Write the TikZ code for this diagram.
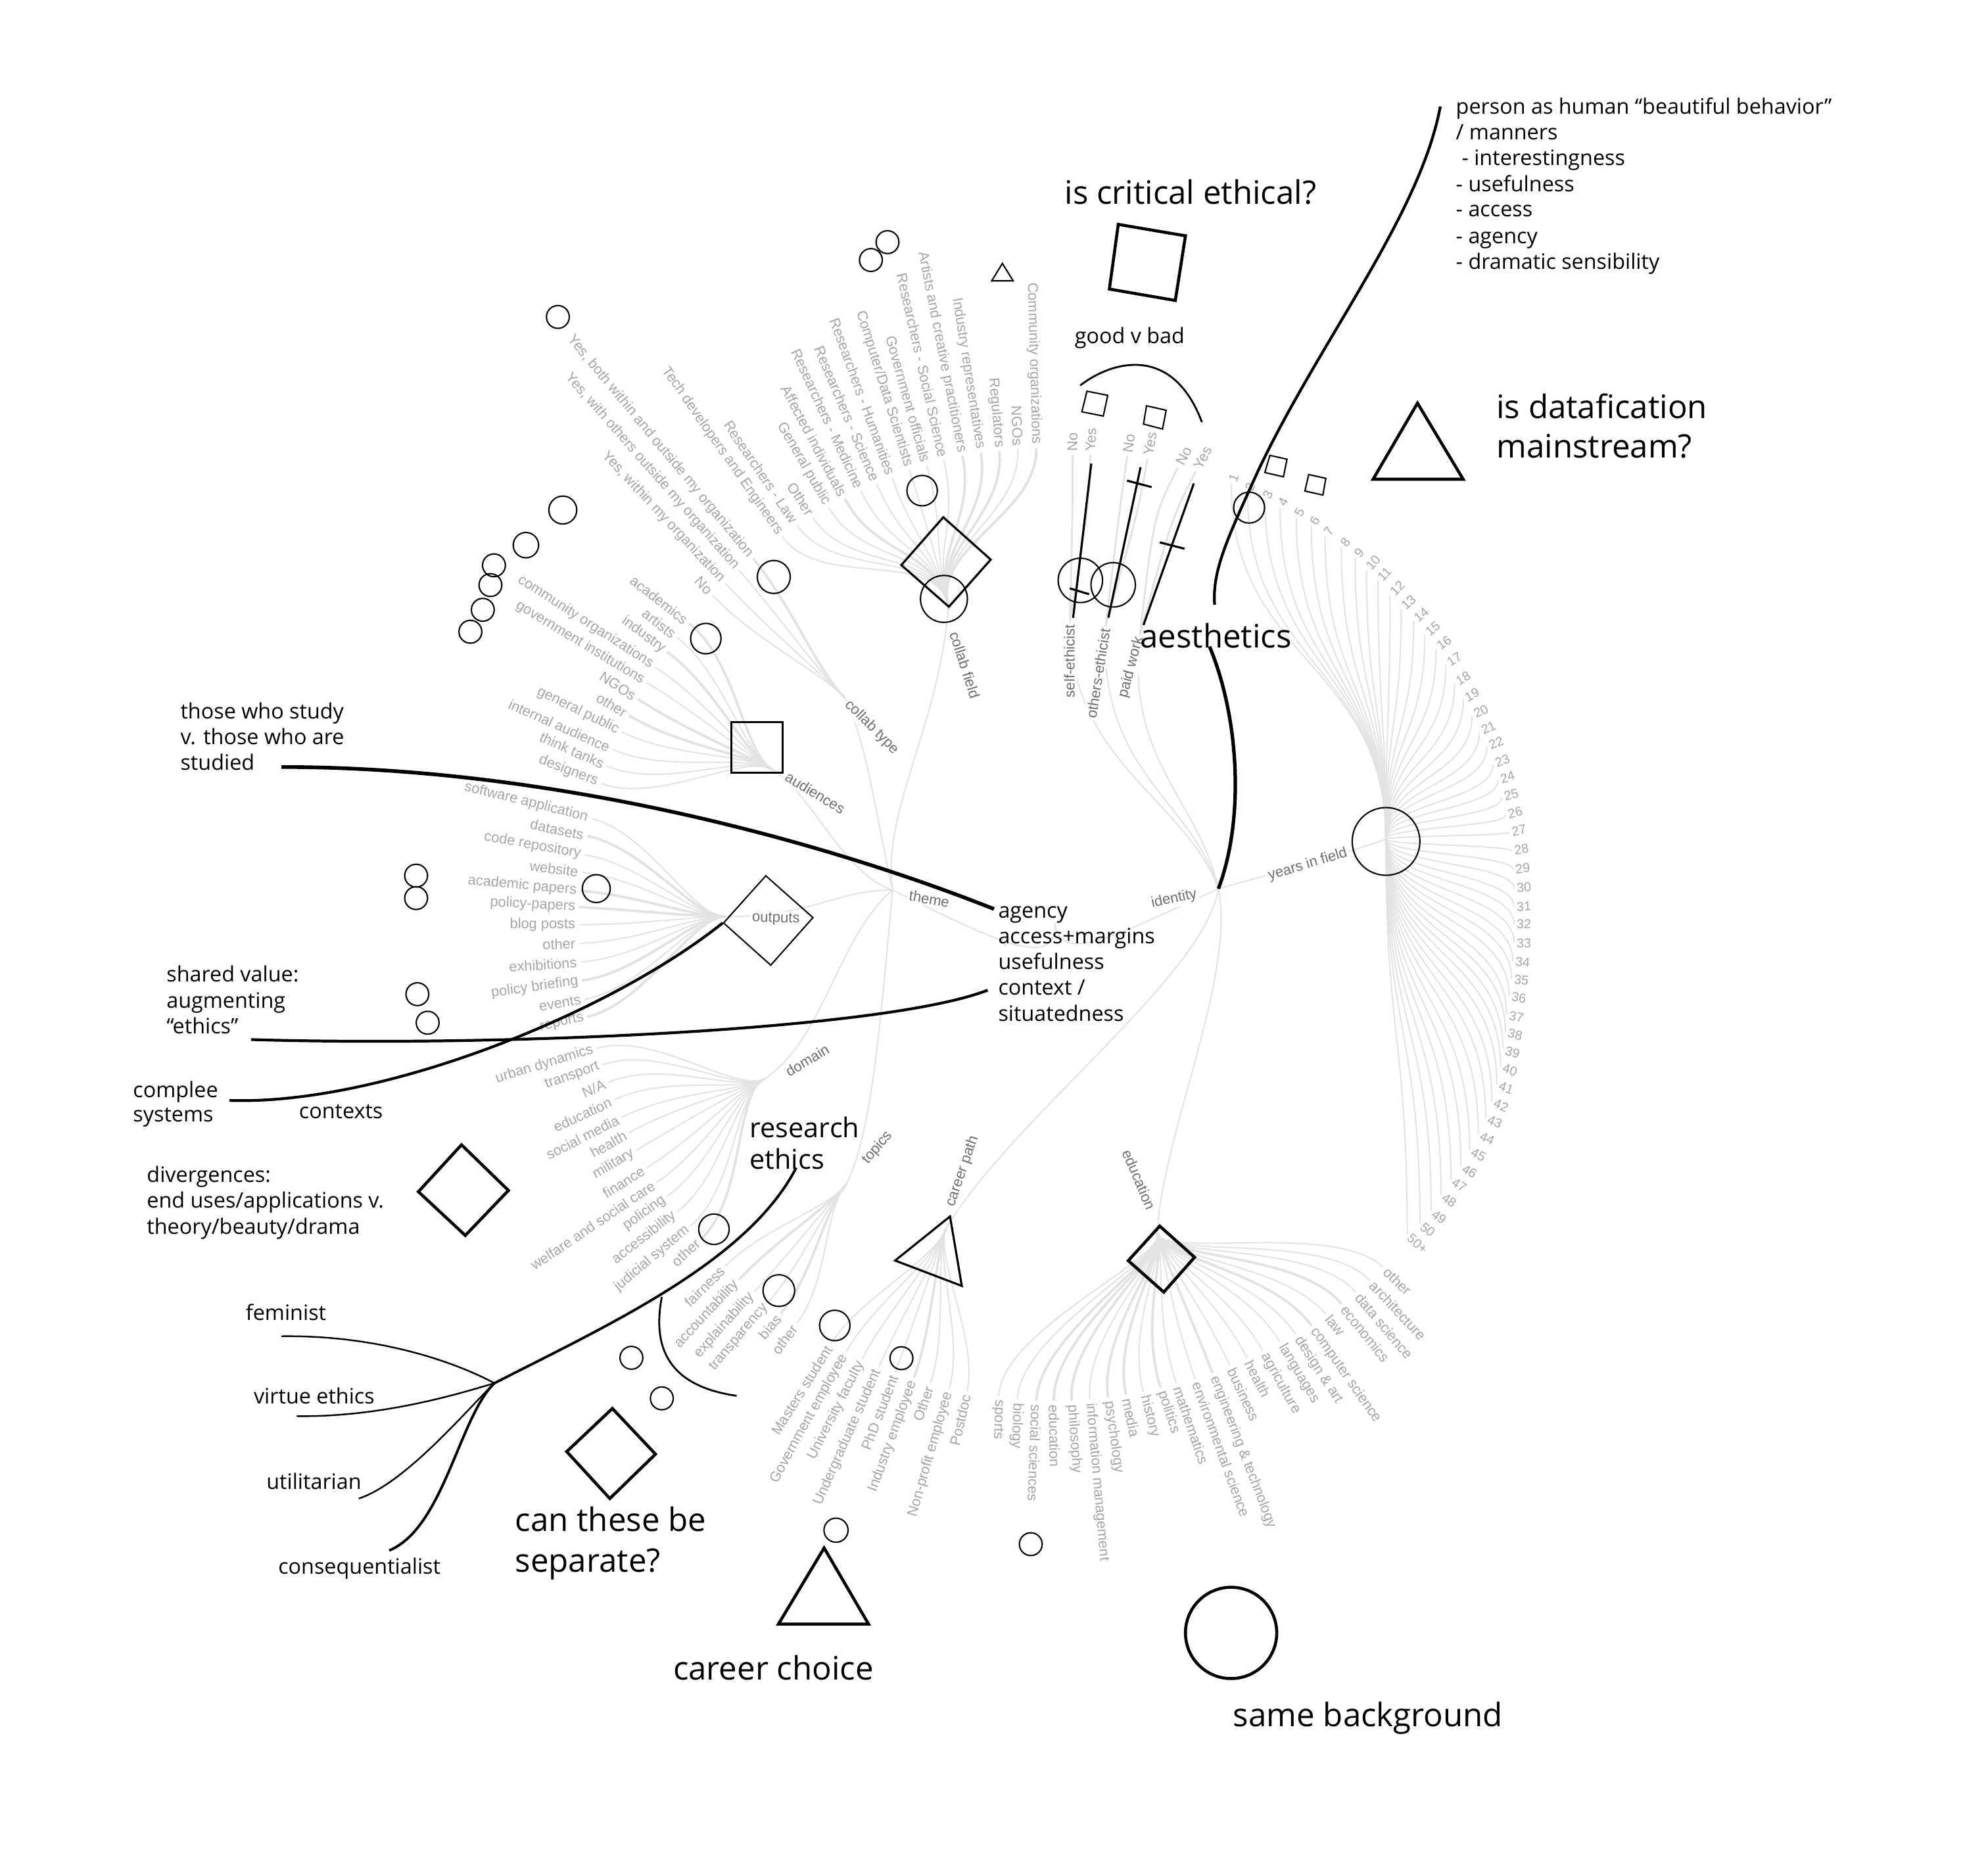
\documentclass[tikz,border=0pt]{standalone}
\usepackage{fontspec}
\setmainfont{Open Sans}
\newfontfamily\lblfont{Liberation Sans}
\usetikzlibrary{calc}
\definecolor{lblgray}{HTML}{A6A6A6}
\definecolor{catgray}{HTML}{6E6E6E}
\definecolor{lnkgray}{HTML}{E2E2E2}
\begin{document}
\begin{tikzpicture}[x=0.019286cm,y=-0.019286cm,
  lbl/.style={font=\lblfont\fontsize{6.2}{7}\selectfont,text=lblgray,inner sep=1.5pt},
  yrlbl/.style={font=\lblfont\fontsize{5.6}{6}\selectfont,text=lblgray,inner sep=1pt},
  cat/.style={font=\lblfont\fontsize{6.3}{7}\selectfont,text=catgray,inner sep=0.8pt,fill=white},
  lnk/.style={draw=lnkgray,line width=0.55pt},
  ann/.style={font=\fontsize{9.2}{11}\selectfont,anchor=base west,inner sep=0pt},
  annc/.style={font=\fontsize{9.2}{11}\selectfont,anchor=base,inner sep=0pt},
  big/.style={font=\fontsize{14}{17}\selectfont,anchor=base west,inner sep=0pt},
  bigc/.style={font=\fontsize{14}{17}\selectfont,anchor=base,inner sep=0pt},
  midt/.style={font=\fontsize{11.8}{14}\selectfont,anchor=base west,inner sep=0pt},
  ink/.style={draw=black,line width=0.6pt},
  inkm/.style={draw=black,line width=0.9pt},
  inkb/.style={draw=black,line width=1.3pt},
]
\fill[white] (0,0) rectangle (1568,1466);
\useasboundingbox (0,0) rectangle (1568,1466);

% ---------- hubs ----------
\coordinate (root) at (832,728);
\coordinate (thH) at (704,702);
\coordinate (idH) at (961,701);
\coordinate (cfH) at (748,477);
\coordinate (ctH) at (666,550);
\coordinate (auH) at (609,607);
\coordinate (ouH) at (572,723);
\coordinate (doH) at (603,851);
\coordinate (toH) at (667,935);
\coordinate (cpH) at (746,969);
\coordinate (edH) at (913,973);
\coordinate (yrH) at (1093,662);
\coordinate (seN) at (844,489);
\coordinate (oeN) at (872,494);
\coordinate (pwN) at (899,501);
\coordinate (cfK) at ([shift={(105:0.9cm)}]cfH);
\coordinate (ctK) at ([shift={(135:0.6cm)}]ctH);
\coordinate (auK) at ([shift={(150:0.5cm)}]auH);
\coordinate (ouK) at ([shift={(180:0.5cm)}]ouH);
\coordinate (doK) at ([shift={(205:0.5cm)}]doH);
\coordinate (toK) at ([shift={(229:0.5cm)}]toH);
\coordinate (cpK) at ([shift={(251:0.5cm)}]cpH);
\coordinate (edK) at ([shift={(-75:0.4cm)}]edH);

% ---------- central links ----------
\draw[lnk] (root) .. controls (833,765) and (790,745) .. (thH);
\draw[lnk] (root) .. controls (836,762) and (880,738) .. (idH);
\draw[lnk] (thH) .. controls (692,650) and (684,585) .. (ctH);
\draw[lnk] (thH) .. controls (695,640) and (742,570) .. (cfH);
\draw[lnk] (thH) .. controls (665,690) and (640,625) .. (auH);
\draw[lnk] (thH) .. controls (660,702) and (640,723) .. (ouH);
\draw[lnk] (thH) .. controls (660,740) and (650,820) .. (doH);
\draw[lnk] (thH) .. controls (695,800) and (688,895) .. (toH);
\draw[lnk] (idH) .. controls (935,630) and (842,600) .. (seN);
\draw[lnk] (idH) .. controls (940,630) and (866,610) .. (oeN);
\draw[lnk] (idH) .. controls (945,630) and (888,600) .. (pwN);
\draw[lnk] (idH) .. controls (1000,690) and (1040,680) .. (yrH);
\draw[lnk] (idH) .. controls (975,770) and (915,900) .. (edH);
\draw[lnk] (idH) .. controls (950,770) and (800,880) .. (cpH);

% ---------- collab field ----------
\foreach \px/\py/\ang/\w/\txt [count=\i] in {
617/423/-55/0.55/{Tech developers and Engineers},
628.5/414/-56/0.55/{Researchers - Law},
641/408/-57/0.55/{Other},
653.5/400/-60/0.55/{General public},
666.5/393.5/-62/1.1/{Affected individuals},
679/387/-65/0.55/{Researchers - Medicine},
691.5/381.7/-67/0.55/{Researchers - Science},
703.6/377/-70/0.55/{Researchers - Humanities},
717.3/370.7/-72.7/0.55/{Computer/Data Scientists},
730.9/367/-74.3/0.55/{Government officials},
744.5/363.3/-77.2/0.55/{Researchers - Social Science},
759.1/359.6/-78.8/1.1/{Artists and creative practitioners},
773.6/357.1/-81/1.1/{Industry representatives},
788.2/355.9/-85/1.1/{Regulators},
802.8/354.7/-88/0.55/{NGOs},
817.3/353.4/-88.4/1.1/{Community organizations}}{
  \node[lbl,rotate=\ang,anchor=east] (cf\i) at (\px,\py) {\txt};
  \draw[lnk,line width=\w pt] (cfH) .. controls (cfK) and ([shift={(\ang:1cm)}]cf\i.east) .. (cf\i.east);
}

% ---------- collab type ----------
\foreach \px/\py/\ang/\w/\txt [count=\i] in {
594/440.5/-50.4/1.1/{Yes, both within and outside my organization},
583/450/-48.7/0.55/{Yes, with others outside my organization},
572/460/-47/0.55/{Yes, within my organization},
562/469.4/-47/0.55/{No}}{
  \node[lbl,rotate=\ang,anchor=east] (ct\i) at (\px,\py) {\txt};
  \draw[lnk,line width=\w pt] (ctH) .. controls (ctK) and ([shift={(\ang:0.9cm)}]ct\i.east) .. (ct\i.east);
}

% ---------- audiences ----------
\foreach \px/\py/\ang/\w/\txt [count=\i] in {
543.5/491.7/-38/1.1/{academics},
534.2/503/-38/0.55/{artists},
526.1/514.2/-36/1.1/{industry},
516.9/526.3/-33/0.55/{community organizations},
510/538.4/-31/0.55/{government institutions},
503/551.3/-33/1.1/{NGOs},
496.1/564.3/-31/1.1/{other},
490.3/577.3/-26/0.55/{general public},
483.3/591.1/-24/0.55/{internal audience},
478.7/604.1/-24/0.55/{think tanks},
474.1/617.9/-21/0.55/{designers}}{
  \node[lbl,rotate=\ang,anchor=east] (au\i) at (\px,\py) {\txt};
  \draw[lnk,line width=\w pt] (auH) .. controls (auK) and ([shift={(\ang:0.9cm)}]au\i.east) .. (au\i.east);
}

% ---------- outputs ----------
\foreach \px/\py/\ang/\w/\txt [count=\i] in {
466.5/645.6/-14/0.55/{software application},
463.3/659.4/-12/1.1/{datasets},
461.1/674.1/-10/0.55/{code repository},
459/687.9/-7/0.55/{website},
457.9/702.6/-5/1.1/{academic papers},
456.8/715.5/-3/1.1/{policy-papers},
456.8/729.4/0/0.55/{blog posts},
456.8/744.1/2/0.55/{other},
457.9/758.8/4/0.55/{exhibitions},
459/773.5/8/1.1/{policy briefing},
461.1/788.1/10/0.55/{events},
463.3/802/13/1.1/{reports}}{
  \node[lbl,rotate=\ang,anchor=east] (ou\i) at (\px,\py) {\txt};
  \draw[lnk,line width=\w pt] (ouH) .. controls (ouK) and ([shift={(\ang:0.9cm)}]ou\i.east) .. (ou\i.east);
}

% ---------- domain ----------
\foreach \px/\py/\ang/\w/\txt [count=\i] in {
470.5/827/17/0.55/{urban dynamics},
475.2/840/20/0.55/{transport},
479.8/853.8/23/0.55/{N/A},
484.4/867.6/25/0.55/{education},
490.2/881.5/27/0.55/{social media},
496/893.6/29/0.55/{health},
501.8/907.4/31/0.55/{military},
509.9/921.2/32/0.55/{finance},
518/932.5/34/0.55/{welfare and social care},
526.1/943.7/36/0.55/{policing},
534.2/955.8/38/0.55/{accessibility},
544.6/967/40/0.55/{judicial system},
552.7/977.4/42/1.1/{other}}{
  \node[lbl,rotate=\ang,anchor=east] (do\i) at (\px,\py) {\txt};
  \draw[lnk,line width=\w pt] (doH) .. controls (doK) and ([shift={(\ang:0.9cm)}]do\i.east) .. (do\i.east);
}

% ---------- topics ----------
\foreach \px/\py/\ang/\w/\txt [count=\i] in {
572.1/998.6/45/0.55/{fairness},
583/1009.3/47/1.1/{accountability},
594.9/1019/48/0.55/{explainability},
605.8/1027.6/50/0.55/{transparency},
615.8/1036.2/51/1.1/{bias},
628.6/1043.8/53/0.55/{other}}{
  \node[lbl,rotate=\ang,anchor=east] (to\i) at (\px,\py) {\txt};
  \draw[lnk,line width=\w pt] (toH) .. controls (toK) and ([shift={(\ang:0.8cm)}]to\i.east) .. (to\i.east);
}

% ---------- career path ----------
\foreach \px/\py/\ang/\w/\txt [count=\i] in {
655.4/1059.8/58/0.55/{Masters student},
667.3/1066.3/61/0.55/{Government employee},
680.2/1071.7/63/0.55/{University faculty},
693.2/1078.1/66/0.55/{Undergraduate student},
706/1082.4/69/0.55/{PhD student},
720.9/1086.7/70/1.1/{Industry employee},
733.8/1091/71/0.55/{Other},
748.7/1095.3/74/0.55/{Non-profit employee},
762.6/1097.5/77/0.55/{Postdoc}}{
  \node[lbl,rotate=\ang,anchor=east] (cp\i) at (\px,\py) {\txt};
  \draw[lnk,line width=\w pt] (cpH) .. controls (cpK) and ([shift={(\ang:0.8cm)}]cp\i.east) .. (cp\i.east);
}

% ---------- education ----------
\foreach \px/\py/\ang/\w/\txt [count=\i] in {
787.7/1101.4/-92/0.55/{sports},
802.5/1103.7/-92/0.55/{biology},
817.4/1104.9/-92/1.1/{social sciences},
831.1/1104.9/-89/1.1/{education},
845.2/1104.9/-86/1.1/{philosophy},
859.6/1103.7/-85/0.55/{information management},
874/1102.5/-82/1.1/{psychology},
888.1/1100.2/-78/1.1/{media},
901.8/1097.9/-75/0.55/{history},
915.4/1094.4/-72/1.1/{politics},
927.8/1090.9/-71/0.55/{mathematics},
942.7/1087.5/-70/0.55/{environmental science},
956.3/1082.9/-69/1.1/{engineering \& technology},
970/1077/-65/0.55/{business},
983.6/1071.2/-63/0.55/{health},
996/1065.5/-61/0.55/{agriculture},
1009.6/1058.5/-59/0.55/{languages},
1022/1052.7/-57/0.55/{design \& art},
1034.4/1045.8/-55/1.1/{computer science},
1045.6/1036.5/-50/0.55/{law},
1058/1028.5/-51/1.1/{economics},
1069.2/1019.2/-50/0.55/{data science},
1080.3/1009.9/-47/0.55/{architecture},
1090.7/999.5/-44/0.55/{other}}{
  \node[lbl,rotate=\ang,anchor=west] (ed\i) at (\px,\py) {\txt};
  \draw[lnk,line width=\w pt] (edH) .. controls (edK) and ([shift={({\ang+180}:1cm)}]ed\i.west) .. (ed\i.west);
}

% ---------- years in field ----------
\foreach \px/\py/\txt [count=\i] in {
973/377/1, 986/384/2, 1000/390/3, 1012/396/4, 1025/404/5, 1037/411/6, 1048/419/7,
1061/428/8, 1072/436/9, 1083/444/10, 1092/453/11, 1102/464/12, 1111/475/13,
1121/485/14, 1130/496/15, 1139/507/16, 1147/520/17, 1154/535/18, 1161/548/19,
1168/561/20, 1174/574/21, 1180/586/22, 1185/600/23, 1189/613/24, 1192/627/25,
1195/641/26, 1198/655/27, 1200/670/28, 1201/685/29, 1202/700/30, 1202/715/31,
1202/729/32, 1202/744/33, 1201/759/34, 1200/773/35, 1198/787/36, 1196/802/37,
1195/816/38, 1193/830/39, 1191/844/40, 1188/858/41, 1184/872/42, 1179/885/43,
1173/898/44, 1166/911/45, 1159/924/46, 1151/935/47, 1143/947/48, 1135/960/49,
1126/970/50, 1118/981/{50+}}{
  \pgfmathsetmacro\ang{atan2(728-\py,\px-832)}
  \node[yrlbl,rotate=\ang] (yr\i) at (\px,\py) {\txt};
  \coordinate (ym) at ($(yrH)!0.5!(yr\i.west)$);
  \draw[lnk] (yrH) .. controls (yrH |- ym) and (yr\i.west |- ym) .. (yr\i.west);
}

% ---------- identity sub-questions ----------
\foreach \nd/\px/\py/\ang/\txt [count=\i] in {
seN/846/359/90/No, seN/860/359/88/Yes, oeN/889/360/82/No, oeN/905/362/80/Yes,
pwN/929/369/63/No, pwN/943/372/63/Yes}{
  \node[lbl,rotate=\ang,anchor=west] (yn\i) at (\px,\py) {\txt};
  \draw[lnk,line width=0.8pt] (\nd) .. controls ([shift={({\ang+180}:0.8cm)}]yn\i.west) .. (yn\i.west);
}

% ---------- category labels ----------
\node[cat,rotate=-72,anchor=west] (lcf) at (752,497) {collab field};
\node[cat,rotate=-45,anchor=west] (lct) at (667,553) {collab type};
\node[cat,rotate=-31,anchor=west] (lau) at (619,611) {audiences};
\node[cat,rotate=-2] (lou) at (612,725) {outputs};
\node[cat,rotate=31,anchor=west] (ldo) at (619,847) {domain};
\node[cat,rotate=49,anchor=west] (lto) at (681,918) {topics};
\node[cat,rotate=71,anchor=west] (lcp) at (749,953) {career path};
\node[cat,rotate=-67,anchor=east] (led) at (909,955) {education};
\node[cat,rotate=17,anchor=east] (lyr) at (1064,672) {years in field};
\node[cat,rotate=-10] (lth) at (733,709) {theme};
\node[cat,rotate=12] (lid) at (926,709) {identity};
\node[cat,rotate=90,anchor=east] (lse) at (843.5,491) {self-ethicist};
\node[cat,rotate=81,anchor=east] (loe) at (872,494) {others-ethicist};
\node[cat,rotate=75,anchor=east] (lpw) at (899,501) {paid work};

% ---------- black shapes ----------
\draw[inkb] (882,177) -- (935,186) -- (927,237) -- (875,228) -- cycle;
\draw[ink] (790.6,207.8) -- (799.1,221.5) -- (782.2,221.5) -- cycle;
\draw[inkb] (1118,318) -- (1154,378) -- (1083,378) -- cycle;
\draw[inkb] (650,1221) -- (685,1281) -- (614,1281) -- cycle;
\draw[inkb] (483,1111) -- (517,1147) -- (481,1182) -- (447,1145) -- cycle;
\draw[inkb] (364,903) -- (401,939) -- (367,974.5) -- (330,940) -- cycle;
\draw[inkb] (971,1288) circle (36);
\draw[ink] (857.3,308.6) -- (873.7,311.8) -- (870.2,328.2) -- (853.3,324.8) -- cycle;
\draw[ink] (904.3,320.1) -- (919.8,323.6) -- (916.9,338.4) -- (901.9,334.5) -- cycle;
\draw[ink] (1001.6,359.2) -- (1015.1,362.2) -- (1012.3,376.1) -- (997.6,372.7) -- cycle;
\draw[ink] (1032.2,374.3) -- (1045.7,377.3) -- (1043.4,390.5) -- (1029.2,387.3) -- cycle;
\draw[inkm] (577,569.5) rectangle (617.5,609.3);
\draw[inkm] (744,408) -- (781.4,441.4) -- (748.4,478.6) -- (710.9,445.7) -- cycle;
\draw[ink] (604,690.8) -- (641.2,723.8) -- (607.9,761.3) -- (570.7,728) -- cycle;
\draw[inkb] (914.7,967.1) -- (942.2,991.7) -- (917.9,1019.2) -- (889.9,994.4) -- cycle;
\draw[inkm] (749.3,959.5) -- (758.6,1014.3) -- (706,994.3) -- cycle;
\foreach \cx/\cy/\r in {440/250/9, 443.9/402.3/11, 414.8/430/10, 389.6/445.9/9,
  386.8/461.5/9, 380.8/481/9, 371/498.3/9, 700/191/9, 686.9/205.1/9,
  727.3/387/12, 744.5/472.4/18.5, 610.3/455.1/13, 556.7/503.7/12, 470.3/700.9/11,
  328.2/690.7/9, 328.2/708.4/9, 329.2/784.2/9, 337.3/806.7/9, 563.1/969.6/12,
  614.3/1018/12.5, 658.4/1045.5/12, 711/1071.3/9, 498/1071/9, 522/1103/9,
  813/1218/9, 659.4/1207/9.5, 852.1/457.8/17.5, 878/461.3/17.5, 985.2/400.4/12.2,
  1093.2/663.7/26.7}{
  \draw[ink] (\cx,\cy) circle (\r);
}

% ---------- black annotation strokes ----------
\draw[inkm] (860.7,365.7) -- (846.4,487.3);
\draw[inkm] (899.6,368.5) -- (874.2,487.2);
\draw[inkm] (941.6,381.3) -- (901.9,493);
\draw[inkm] (888.9,379.1) -- (908.3,384.2);
\draw[inkm] (914.7,427.8) -- (934.2,432.8);
\draw[inkm] (843.8,464.1) -- (859,468.7);
\draw[draw=black,line width=0.8pt] (852,304) .. controls (878,284) and (925,272) .. (948,333);
\draw[draw=black,line width=1.2pt] (1136,84) .. controls (1120,170) and (1040,270) .. (992,372) .. controls (968,425) and (956,450) .. (958,477);
\draw[draw=black,line width=1.5pt] (954,510) .. controls (977,565) and (982,645) .. (961,701);
\draw[draw=black,line width=1.6pt] (222,605) .. controls (430,605) and (640,660) .. (784,717);
\draw[draw=black,line width=1.2pt] (198,820) .. controls (400,826) and (700,812) .. (779,781);
\draw[draw=black,line width=1.2pt] (181,868) .. controls (300,872) and (480,800) .. (570,728);
\draw[draw=black,line width=1.1pt] (628,921) .. controls (590,995) and (480,1045) .. (390,1091);
\draw[draw=black,line width=0.7pt] (222,1054) .. controls (300,1053) and (360,1075) .. (390,1091);
\draw[draw=black,line width=0.7pt] (234,1117) .. controls (300,1118) and (360,1100) .. (390,1091);
\draw[draw=black,line width=0.7pt] (283,1182) .. controls (320,1170) and (370,1110) .. (390,1091);
\draw[draw=black,line width=1.1pt] (307,1223) .. controls (350,1205) and (362,1118) .. (390,1091);
\draw[draw=black,line width=0.8pt] (522,1023) .. controls (512,1075) and (540,1095) .. (581,1101);

% ---------- annotation text ----------
\foreach \txt/\yy [count=\i] in {{person as human “beautiful behavior”}/90,
  {/ manners}/110, {\hspace{2.5pt}- interestingness}/130.5, {- usefulness}/151,
  {- access}/171, {- agency}/192, {- dramatic sensibility}/212.5}{
  \node[ann] (ph\i) at (1148,\yy) {\txt};
}
\node[bigc] (crit) at (939,161) {is critical ethical?};
\node[big] (dat1) at (1180,330) {is datafication};
\node[big] (dat2) at (1180,361) {mainstream?};
\node[annc] (gvb) at (891,271) {good v bad};
\node[bigc] (aes) at (959,511) {aesthetics};
\node[ann] (tw1) at (142,567) {those who study};
\node[ann] (tw2) at (142,587.3) {v. those who are};
\node[ann] (tw3) at (142,607.4) {studied};
\node[ann] (ag1) at (787,724) {agency};
\node[ann] (ag2) at (787,744.3) {access+margins};
\node[ann] (ag3) at (787,764.7) {usefulness};
\node[ann] (ag4) at (787,785) {context /};
\node[ann] (ag5) at (787,805.5) {situatedness};
\node[ann] (sv1) at (131,774.5) {shared value:};
\node[ann] (sv2) at (131,795) {augmenting};
\node[ann] (sv3) at (131,815.5) {“ethics”};
\node[ann] (cs1) at (104.6,865.5) {complee};
\node[ann] (cs2) at (104.6,885) {systems};
\node[ann] (ctx) at (235.5,882) {contexts};
\node[midt] (re1) at (591,897.5) {research};
\node[midt] (re2) at (591,922) {ethics};
\node[ann] (dv1) at (115.5,932.5) {divergences:};
\node[ann] (dv2) at (115.5,953) {end uses/applications v.};
\node[ann] (dv3) at (115.5,973.3) {theory/beauty/drama};
\node[ann] (fem) at (193.5,1041.5) {feminist};
\node[ann] (vir) at (199.8,1107.5) {virtue ethics};
\node[ann] (uti) at (209.8,1174.5) {utilitarian};
\node[ann] (con) at (219.1,1241.8) {consequentialist};
\node[big] (sep1) at (406,1208) {can these be};
\node[big] (sep2) at (406,1240) {separate?};
\node[bigc] (cch) at (610,1325) {career choice};
\node[bigc] (sbg) at (1079,1362) {same background};
\end{tikzpicture}
\end{document}
